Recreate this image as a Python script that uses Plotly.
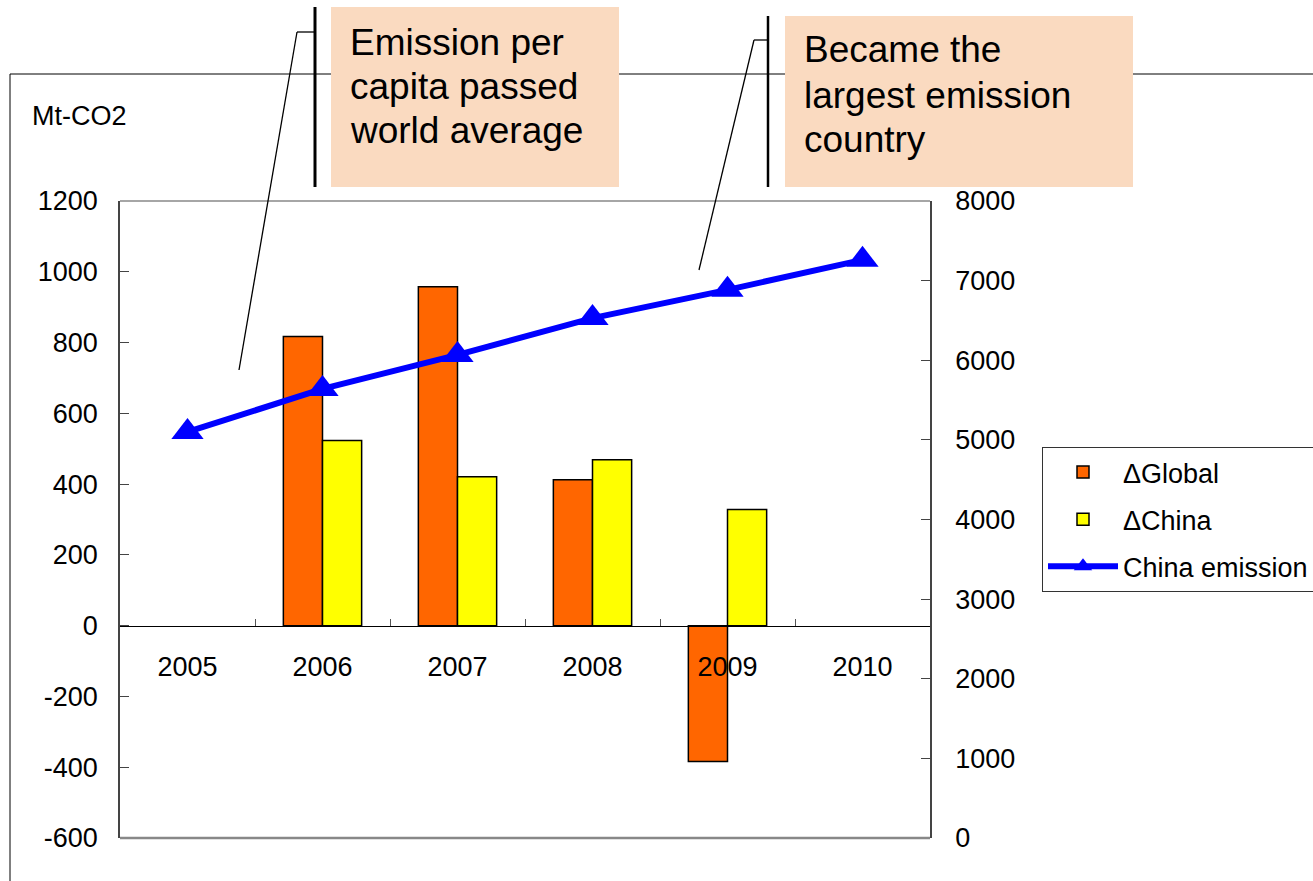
import plotly.graph_objects as go

# ---- data ----
years = ["2005", "2006", "2007", "2008", "2009", "2010"]
delta_global = [None, 817, 958, 412, -384, None]
delta_china = [None, 523, 421, 469, 328, None]
china_emission = [5100, 5640, 6067, 6530, 6884, 7261]

left_ticks = [-600, -400, -200, 0, 200, 400, 600, 800, 1000, 1200]
left_tick_labels = ["-600", "-400", "-200", "0", "200", "400", "600", "800", "1000", "1200"]
right_ticks = [0, 1000, 2000, 3000, 4000, 5000, 6000, 7000, 8000]
right_tick_labels = ["0", "1000", "2000", "3000", "4000", "5000", "6000", "7000", "8000"]

callout1 = ["Emission per", "capita passed", "world average"]
callout2 = ["Became the", "largest emission", "country"]

# ---- layout geometry (pixels) ----
W, H = 1313, 881
L, R, T, B = 120, 930, 201, 838
PW, PH = R - L, B - T
FONT = "Liberation Sans, Arial, sans-serif"
TICK = 27


def px(x):
    return (x - L) / PW


def py(y):
    return (B - y) / PH


fig = go.Figure()
fig.add_trace(go.Bar(
    x=years, y=delta_global, name="ΔGlobal", legendgroup="g1",
    marker=dict(color="#FF6600", line=dict(color="black", width=1.5)),
))
fig.add_trace(go.Bar(
    x=years, y=delta_china, name="ΔChina", legendgroup="g2",
    marker=dict(color="#FFFF00", line=dict(color="black", width=1.5)),
))
fig.add_trace(go.Scatter(
    x=years, y=china_emission, name="China emission", legendgroup="g3",
    yaxis="y2", mode="lines+markers",
    line=dict(color="#0000FF", width=6),
    marker=dict(symbol="triangle-up", size=28, color="#0000FF"),
))

shapes = []
# plot area frame (top/bottom gray)
shapes.append(dict(type="line", xref="paper", yref="paper", x0=0, x1=1, y0=1, y1=1,
                   line=dict(color="#888888", width=1.5)))
shapes.append(dict(type="line", xref="paper", yref="paper", x0=0, x1=1, y0=0, y1=0,
                   line=dict(color="#888888", width=2.5)))
# outer frame
shapes.append(dict(type="line", xref="paper", yref="paper", x0=px(10), x1=px(W + 5),
                   y0=py(74), y1=py(74), line=dict(color="black", width=1)))
shapes.append(dict(type="line", xref="paper", yref="paper", x0=px(10), x1=px(10),
                   y0=py(74), y1=py(H + 5), line=dict(color="black", width=1)))
# callout boxes
shapes.append(dict(type="rect", xref="paper", yref="paper", x0=px(331), x1=px(619),
                   y0=py(187), y1=py(7), fillcolor="#FADAC0", line=dict(width=0),
                   layer="above"))
shapes.append(dict(type="rect", xref="paper", yref="paper", x0=px(785), x1=px(1133),
                   y0=py(187), y1=py(16), fillcolor="#FADAC0", line=dict(width=0),
                   layer="above"))
# callout bars
shapes.append(dict(type="line", xref="paper", yref="paper", x0=px(315), x1=px(315),
                   y0=py(7), y1=py(187), line=dict(color="black", width=3), layer="above"))
shapes.append(dict(type="line", xref="paper", yref="paper", x0=px(768), x1=px(768),
                   y0=py(16), y1=py(187), line=dict(color="black", width=2.5), layer="above"))
# leader lines
for pts in ([(315, 32), (297, 32), (239, 370)], [(768, 40), (754, 40), (699, 270)]):
    for (xa, ya), (xb, yb) in zip(pts[:-1], pts[1:]):
        shapes.append(dict(type="line", xref="paper", yref="paper",
                           x0=px(xa), x1=px(xb), y0=py(ya), y1=py(yb),
                           line=dict(color="black", width=1.3), layer="above"))

annotations = []
for txt, yc in zip(callout1, [42, 86, 130]):
    annotations.append(dict(text=txt, xref="paper", yref="paper", x=px(348), y=py(yc),
                            xanchor="left", yanchor="middle", showarrow=False,
                            font=dict(family=FONT, size=37, color="black")))
for txt, yc in zip(callout2, [50, 95, 139]):
    annotations.append(dict(text=txt, xref="paper", yref="paper", x=px(802), y=py(yc),
                            xanchor="left", yanchor="middle", showarrow=False,
                            font=dict(family=FONT, size=37, color="black")))
annotations.append(dict(text="Mt-CO2", xref="paper", yref="paper", x=px(30), y=py(116),
                        xanchor="left", yanchor="middle", showarrow=False,
                        font=dict(family=FONT, size=27, color="black")))

zero_pos = (0 - left_ticks[0]) / (left_ticks[-1] - left_ticks[0])

fig.update_layout(
    width=W, height=H,
    margin=dict(l=L, r=W - R, t=T, b=H - B, pad=0, autoexpand=False),
    paper_bgcolor="white", plot_bgcolor="white",
    font=dict(family=FONT, size=TICK, color="black"),
    barmode="group", bargap=0.42, bargroupgap=0,
    showlegend=True,
    legend=dict(
        x=px(1042), y=py(447), xanchor="left", yanchor="top",
        bordercolor="#333333", borderwidth=1, bgcolor="white",
        font=dict(family=FONT, size=27, color="black"),
        traceorder="grouped", tracegroupgap=9, itemwidth=70,
    ),
    xaxis=dict(
        type="category", categoryorder="array", categoryarray=years,
        range=[-0.5, 5.5], anchor="free", position=zero_pos,
        showline=True, linecolor="black", linewidth=1,
        ticks="inside", tickson="boundaries", ticklen=7, tickcolor="#555555",
        showgrid=False, zeroline=False, ticklabelstandoff=17,
        tickfont=dict(family=FONT, size=TICK, color="black"),
    ),
    yaxis=dict(
        range=[left_ticks[0], left_ticks[-1]], tickvals=left_ticks, ticktext=left_tick_labels,
        showline=True, linecolor="#444444", linewidth=1.5,
        ticks="inside", ticklen=9, tickcolor="#444444",
        showgrid=False, zeroline=False, ticklabelstandoff=15,
        tickfont=dict(family=FONT, size=TICK, color="black"),
    ),
    yaxis2=dict(
        range=[right_ticks[0], right_ticks[-1]], tickvals=right_ticks, ticktext=right_tick_labels,
        overlaying="y", side="right",
        showline=True, linecolor="#444444", linewidth=1.5,
        ticks="inside", ticklen=9, tickcolor="#444444",
        showgrid=False, zeroline=False, ticklabelstandoff=18,
        tickfont=dict(family=FONT, size=TICK, color="black"),
    ),
    shapes=shapes,
    annotations=annotations,
)

fig.write_html("out.html")
